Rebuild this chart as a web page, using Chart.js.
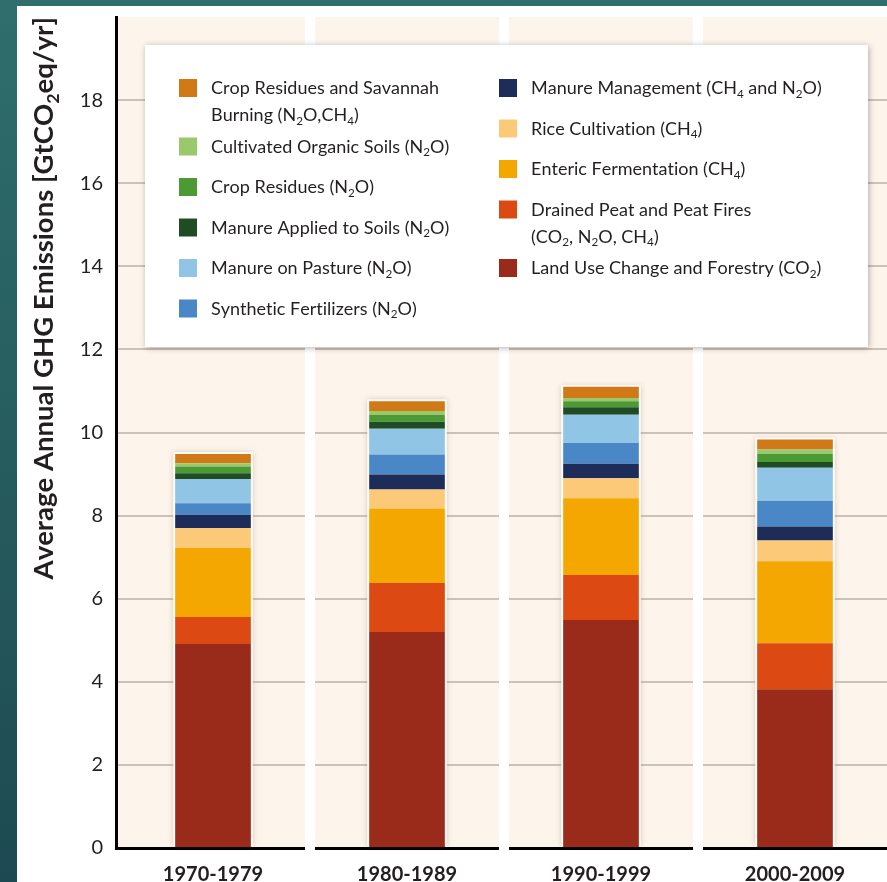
<!DOCTYPE html>
<html>
<head>
<meta charset="utf-8">
<script src="https://cdn.jsdelivr.net/npm/chart.js@4.4.1/dist/chart.umd.min.js"></script>
<style>
html, body { margin: 0; padding: 0; }
body {
    width: 887px; height: 882px; overflow: hidden; position: relative;
    background: linear-gradient(180deg, #2f6e6d 0%, #25595c 60%, #1d4a52 100%);
}
#chart { position: absolute; left: 17px; top: 6px; background: #fff; }
</style>
</head>
<body>
<canvas id="chart" width="880" height="900"></canvas>
<script>
const decades = ['1970-1979', '1980-1989', '1990-1999', '2000-2009'];
const yTicks = [0, 2, 4, 6, 8, 10, 12, 14, 16, 18];

// stack order, bottom first (GtCO2eq/yr)
const landUseChange   = [4.91, 5.20, 5.49, 3.82];
const drainedPeat     = [0.65, 1.18, 1.08, 1.11];
const entericFerm     = [1.66, 1.79, 1.85, 1.97];
const riceCultivation = [0.48, 0.46, 0.48, 0.50];
const manureMgmt      = [0.32, 0.36, 0.35, 0.34];
const syntheticFert   = [0.28, 0.48, 0.50, 0.62];
const manurePasture   = [0.58, 0.62, 0.68, 0.79];
const manureApplied   = [0.14, 0.17, 0.18, 0.14];
const cropResidues    = [0.16, 0.16, 0.14, 0.20];
const organicSoils    = [0.08, 0.10, 0.08, 0.10];
const savannahBurning = [0.22, 0.23, 0.27, 0.24];

const seriesNames = [
    'Land Use Change and Forestry (CO₂)',
    'Drained Peat and Peat Fires\n(CO₂, N₂O, CH₄)',
    'Enteric Fermentation (CH₄)',
    'Rice Cultivation (CH₄)',
    'Manure Management (CH₄ and N₂O)',
    'Synthetic Fertilizers (N₂O)',
    'Manure on Pasture (N₂O)',
    'Manure Applied to Soils (N₂O)',
    'Crop Residues (N₂O)',
    'Cultivated Organic Soils (N₂O)',
    'Crop Residues and Savannah\nBurning (N₂O,CH₄)'
];
const seriesValues = [landUseChange, drainedPeat, entericFerm, riceCultivation, manureMgmt,
    syntheticFert, manurePasture, manureApplied, cropResidues, organicSoils, savannahBurning];
const seriesColors = ['#9a2a19', '#dc4913', '#f4a700', '#fbc978', '#1d2c59', '#4a87c7',
    '#91c5e6', '#1f4c23', '#4c9a33', '#9ac96c', '#d17917'];

const yTitle = 'Average Annual GHG Emissions [GtCO₂eq/yr]';
const FONT = 'Lato, "Open Sans", sans-serif';
const subs = {'₂': '2', '₄': '4'};

// draws text with the subscript digits lowered and smaller
function richWidth(ctx, text, size, weight) {
    let w = 0;
    for (let ch of text) {
        ctx.font = weight + ' ' + (subs[ch] ? size * 0.65 : size) + 'px ' + FONT;
        w += ctx.measureText(subs[ch] || ch).width;
    }
    return w;
}
function drawRich(ctx, text, x, y, size, weight) {
    for (let ch of text) {
        let s = subs[ch];
        ctx.font = weight + ' ' + (s ? size * 0.65 : size) + 'px ' + FONT;
        ctx.fillText(s || ch, x, s ? y + size * 0.22 : y);
        x += ctx.measureText(s || ch).width;
    }
}

const panelPlugin = {
    id: 'panel',
    beforeDraw(chart) {
        let {ctx, chartArea: a} = chart;
        ctx.save();
        ctx.fillStyle = '#fdf5eb';
        ctx.fillRect(a.left, a.top, a.right - a.left, a.bottom - a.top);
        ctx.restore();
    },
    beforeDatasetsDraw(chart) {
        let {ctx, chartArea: a, scales: {x}} = chart;
        ctx.save();
        // white gaps between decade columns
        ctx.fillStyle = '#ffffff';
        for (let i = 0; i < decades.length - 1; i++) {
            let mid = (x.getPixelForValue(i) + x.getPixelForValue(i + 1)) / 2;
            ctx.fillRect(mid - 5, a.top, 10, a.bottom - a.top + 3);
        }
        // soft light halo behind each bar
        let first = chart.getDatasetMeta(0), last = chart.getDatasetMeta(seriesValues.length - 1);
        for (let i = 0; i < decades.length; i++) {
            let b = first.data[i], t = last.data[i];
            ctx.shadowColor = 'rgba(140,110,80,0.35)';
            ctx.shadowBlur = 5;
            ctx.fillStyle = 'rgba(255,255,255,0.9)';
            ctx.fillRect(t.x - t.width / 2 - 2, t.y - 2, t.width + 4, b.base - t.y + 1);
        }
        ctx.restore();
    },
    afterDraw(chart) {
        let {ctx, chartArea: a} = chart;
        ctx.save();

        // y axis title
        ctx.fillStyle = '#231f20';
        ctx.textBaseline = 'alphabetic';
        let tw = richWidth(ctx, yTitle, 27.5, 'bold');
        ctx.translate(36, a.top);
        ctx.rotate(-Math.PI / 2);
        drawRich(ctx, yTitle, -tw, 0, 27.5, 'bold');
        ctx.setTransform(1, 0, 0, 1, 0, 0);

        // legend box
        let bx = a.left + 29, by = a.top + 28;
        ctx.shadowColor = 'rgba(0,0,0,0.3)';
        ctx.shadowBlur = 6;
        ctx.shadowOffsetX = 1;
        ctx.shadowOffsetY = 1;
        ctx.fillStyle = '#ffffff';
        ctx.fillRect(bx, by, 723, 302);
        ctx.shadowColor = 'transparent';

        let order = seriesNames.map((n, i) => i).reverse();
        let cols = [order.slice(0, 6), order.slice(6)];
        cols.forEach((col, c) => {
            let sx = bx + (c ? 354 : 34), tx = bx + (c ? 386 : 66);
            let base = by + 49;
            for (let idx of col) {
                let lines = seriesNames[idx].split('\n');
                ctx.fillStyle = seriesColors[idx];
                ctx.fillRect(sx, base - 15, 18, 18);
                ctx.fillStyle = '#231f20';
                lines.forEach((ln, k) => drawRich(ctx, ln, tx, base + k * 27, 18, 'normal'));
                base += 40.5 + (lines.length - 1) * 18;
            }
        });
        ctx.restore();
    }
};

new Chart(document.getElementById('chart'), {
    type: 'bar',
    data: {
        labels: decades,
        datasets: seriesValues.map((v, i) => ({
            label: seriesNames[i].replace('\n', ' '),
            data: v,
            backgroundColor: seriesColors[i],
            borderWidth: 0,
            barPercentage: 0.39,
            categoryPercentage: 1
        }))
    },
    options: {
        responsive: false,
        animation: false,
        devicePixelRatio: 1,
        layout: {padding: {top: 11, right: 5, left: 0, bottom: 0}},
        plugins: {legend: {display: false}, tooltip: {enabled: false}},
        scales: {
            x: {
                stacked: true,
                grid: {display: false, drawTicks: false},
                border: {color: '#000', width: 3},
                ticks: {color: '#231f20', padding: 15, font: {family: FONT, size: 20, weight: 'bold'}},
                afterFit(s) { s.height = 58; }
            },
            y: {
                stacked: true,
                min: 0,
                max: 20,
                afterBuildTicks(s) { s.ticks = yTicks.concat([20]).map(v => ({value: v})); },
                grid: {
                    drawTicks: false,
                    lineWidth: 2,
                    color: c => (c.tick.value === 0 || c.tick.value === 20) ? 'rgba(0,0,0,0)' : '#cbc3ba'
                },
                border: {color: '#000', width: 3},
                ticks: {
                    color: '#231f20', padding: 13,
                    font: {family: FONT, size: 20},
                    callback: v => yTicks.includes(v) ? v : ''
                },
                afterFit(s) { s.width = 99; s.paddingTop = 0; }
            }
        }
    },
    plugins: [panelPlugin]
});
</script>
</body>
</html>
